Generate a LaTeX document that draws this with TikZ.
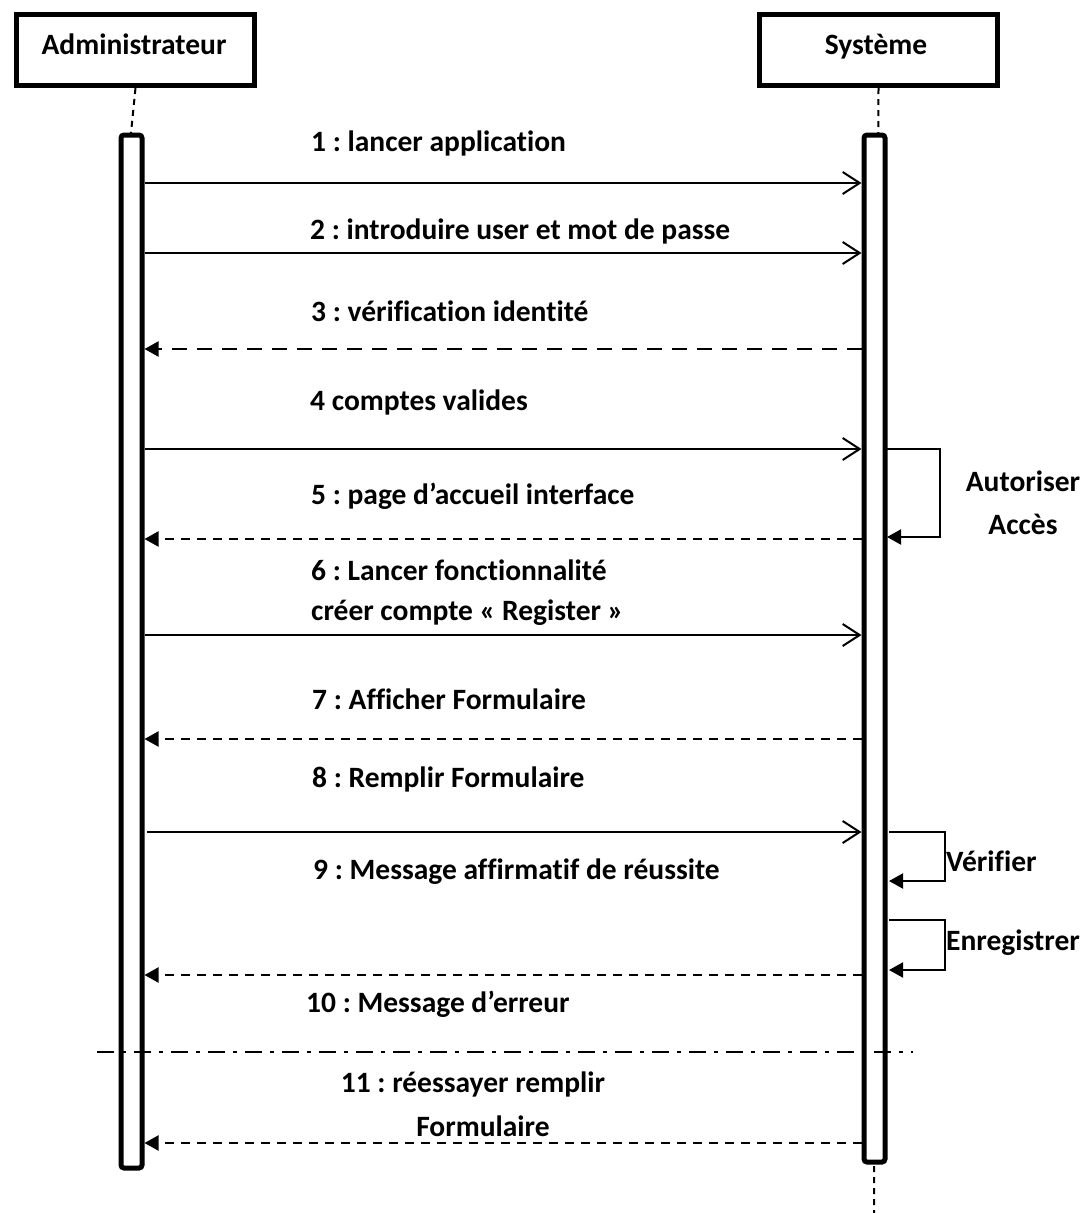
\documentclass[tikz,border=0pt]{standalone}
\usepackage{fontspec}
\setmainfont[Ligatures=NoCommon]{Carlito}
\usetikzlibrary{arrows.meta}
\frenchspacing
\begin{document}
\begin{tikzpicture}[x=1pt,y=-1pt,
  every node/.style={font=\bfseries\fontsize{29.5}{34}\selectfont, inner sep=0pt},
  actor/.style={draw, line width=5pt, minimum width=238pt, minimum height=71pt, anchor=north west},
  bar/.style={draw, line width=5pt, rounded corners=3pt, fill=white},
  life/.style={line width=2pt, dash pattern=on 6pt off 5pt},
  call/.style={line width=2pt, -{Straight Barb[length=17pt,width=22pt,line width=2pt]}},
  reply/.style={line width=2pt, dash pattern=on 15pt off 10pt, -{Triangle[length=14pt,width=15pt]}},
  replyb/.style={line width=2pt, dash pattern=on 9pt off 7pt, -{Triangle[length=14pt,width=15pt]}},
  self/.style={line width=2pt, -{Triangle[length=14pt,width=15pt]}},
  msg/.style={anchor=west},
]
\useasboundingbox (0,0) rectangle (1087,1213);

% actors
\node[actor] (admin) at (14,12) {};
\node[anchor=base] (adminT) at (134,54) {Administrateur};
\node[actor] (sys) at (757,12) {};
\node[anchor=base] (sysT) at (876,54) {Système};

% lifelines
\coordinate (aTop) at (131,133);
\coordinate (sTop) at (874,133);
\coordinate (sEnd) at (874,1213);
\draw[life] (admin.south) -- (aTop);
\draw[life] (sys.south) -- (sEnd);

% activation bars
\draw[bar] (121,135) rectangle (142,1168);
\draw[bar] (864,135) rectangle (885,1162);

% bar edges used as message ends
\foreach \n/\y in {1/183,2/253,3/349,4/449,5/539,6/635,7/739,8/832,10/975,11/1143}{
  \coordinate (a\n) at (144.5,\y);
  \coordinate (s\n) at (861.5,\y);
}
\coordinate (a8) at (147,832);

% messages
\draw[call] (a1) -- (s1);
\node[msg] (m1) at (311,143) {1 : lancer application};
\draw[call] (a2) -- (s2);
\node[msg] (m2) at (310,231) {2 : introduire user et mot de passe};
\draw[reply] (s3) -- (a3);
\node[msg] (m3) at (311,311) {3 : vérification identité};
\draw[call] (a4) -- (s4);
\node[msg] (m4) at (310,402) {4 comptes valides};
\draw[replyb] (s5) -- (a5);
\node[msg] (m5) at (311,496) {5 : page d’accueil interface};
\node[msg] (m6a) at (311,570) {6 : Lancer fonctionnalité};
\node[msg] (m6b) at (311,613) {créer compte « Register »};
\draw[call] (a6) -- (s6);
\draw[replyb] (s7) -- (a7);
\node[msg] (m7) at (312,699) {7 : Afficher Formulaire};
\node[msg] (m8) at (312,779) {8 : Remplir Formulaire};
\draw[call] (a8) -- (s8);
\node[msg] (m9) at (313,872) {9 : Message affirmatif de réussite};
\draw[replyb] (s10) -- (a10);
\node[msg] (m10) at (306,1004) {10 : Message d’erreur};

% separator
\coordinate (sepL) at (97,1052);
\coordinate (sepR) at (913,1052);
\draw[line width=2pt, dash pattern=on 17pt off 8pt on 4pt off 8pt] (sepL) -- (sepR);

\node (m11a) at (473,1084) {11 : réessayer remplir};
\node (m11b) at (483,1126) {Formulaire};
\draw[replyb] (s11) -- (a11);

% self messages on the system lifeline
\coordinate (l1a) at (887,449);
\coordinate (l1b) at (887,537);
\draw[self] (l1a) -- (940,449) -- (940,537) -- (l1b);
\node (aut1) at (1023,481) {Autoriser};
\node (aut2) at (1023,524) {Accès};

\coordinate (l2a) at (889,832);
\coordinate (l2b) at (889,881);
\draw[self] (l2a) -- (945,832) -- (945,881) -- (l2b);
\node[anchor=west] (ver) at (946,861) {Vérifier};

\coordinate (l3a) at (889,920);
\coordinate (l3b) at (889,970);
\draw[self] (l3a) -- (945,920) -- (945,970) -- (l3b);
\node[anchor=west] (enr) at (946,943) {Enregistrer};
\end{tikzpicture}
\end{document}
